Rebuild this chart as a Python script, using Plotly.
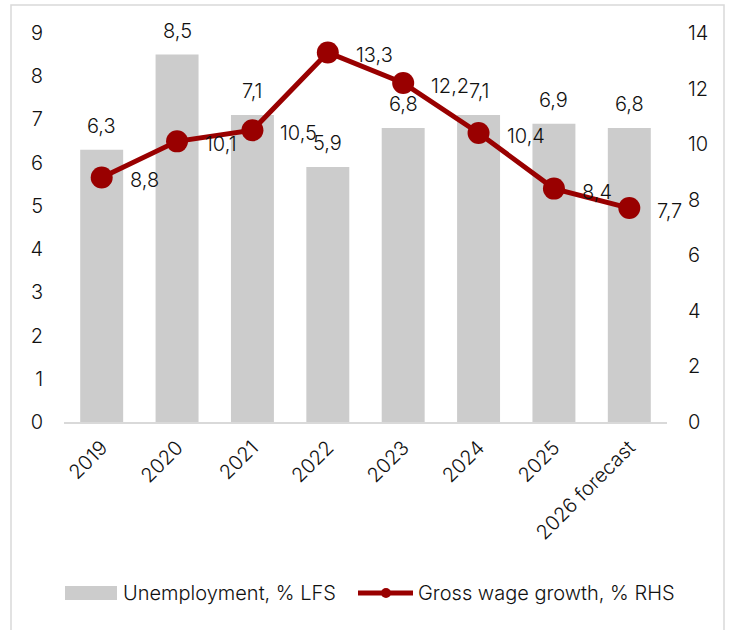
import plotly.graph_objects as go

years = ["2019", "2020", "2021", "2022", "2023", "2024", "2025", "2026 forecast"]
unemployment = [6.3, 8.5, 7.1, 5.9, 6.8, 7.1, 6.9, 6.8]
wage_growth = [8.8, 10.1, 10.5, 13.3, 12.2, 10.4, 8.4, 7.7]

left_ticks = list(range(0, 10))
right_ticks = list(range(0, 15, 2))

FONT = "Inter, Roboto, sans-serif"
FS = 20
FW = 300
BAR_COLOR = "#cccccc"
LINE_COLOR = "#990000"
TEXT_COLOR = "#111111"

# plot-area geometry in pixels (used to place the hand-drawn legend and frame)
W, H = 729, 630
L, R, T, B = 64, 62, 33, 208
PW, PH = W - L - R, H - T - B


def px_x(px):
    return (px - L) / PW


def px_y(py):
    return (H - B - py) / PH


def fmt(v):
    return f"{v:.1f}".replace(".", ",")


def tfont():
    return dict(size=FS, color=TEXT_COLOR, family=FONT, weight=FW)


fig = go.Figure()

fig.add_trace(go.Bar(
    x=years, y=unemployment,
    name="Unemployment, % LFS",
    marker=dict(color=BAR_COLOR, line=dict(width=0)),
    yaxis="y",
    showlegend=False,
))

fig.add_trace(go.Scatter(
    x=years, y=wage_growth,
    name="Gross wage growth, % RHS",
    mode="lines+markers",
    line=dict(color=LINE_COLOR, width=5),
    marker=dict(color=LINE_COLOR, size=22),
    cliponaxis=False,
    yaxis="y2",
    showlegend=False,
))

annotations = []
# value labels above the bars (x given as category index)
for i, v in enumerate(unemployment):
    annotations.append(dict(
        x=i, y=v, xref="x", yref="y", text=fmt(v), showarrow=False,
        xanchor="center", yanchor="middle", yshift=24, font=tfont(),
    ))
# value labels to the right of the line markers
for i, v in enumerate(wage_growth):
    annotations.append(dict(
        x=i, y=v, xref="x", yref="y2", text=fmt(v), showarrow=False,
        xanchor="left", yanchor="middle", xshift=26, yshift=-3, font=tfont(),
    ))

# legend entries
LEG_Y = 593
annotations.append(dict(
    x=px_x(121), y=px_y(LEG_Y), xref="paper", yref="paper",
    text="Unemployment, % LFS", showarrow=False, xanchor="left", yanchor="middle",
    font=tfont(),
))
annotations.append(dict(
    x=px_x(416), y=px_y(LEG_Y), xref="paper", yref="paper",
    text="Gross wage growth, % RHS", showarrow=False, xanchor="left", yanchor="middle",
    font=tfont(),
))

shapes = [
    # outer frame
    dict(type="rect", xref="paper", yref="paper",
         x0=px_x(11), x1=px_x(724), y0=px_y(640), y1=px_y(5),
         line=dict(color="#d9d9d9", width=1.5), fillcolor="rgba(0,0,0,0)",
         layer="below"),
    # legend swatch for bars
    dict(type="rect", xref="paper", yref="paper",
         x0=px_x(65), x1=px_x(117), y0=px_y(LEG_Y + 7), y1=px_y(LEG_Y - 7),
         line=dict(width=0), fillcolor=BAR_COLOR),
    # legend swatch for line
    dict(type="line", xref="paper", yref="paper",
         x0=px_x(358), x1=px_x(413), y0=px_y(LEG_Y), y1=px_y(LEG_Y),
         line=dict(color=LINE_COLOR, width=5)),
    dict(type="circle", xref="paper", yref="paper",
         x0=px_x(381), x1=px_x(391), y0=px_y(LEG_Y + 5), y1=px_y(LEG_Y - 5),
         line=dict(width=0), fillcolor=LINE_COLOR),
]

fig.update_layout(
    width=W, height=H,
    margin=dict(l=L, r=R, t=T, b=B),
    paper_bgcolor="white", plot_bgcolor="white",
    font=tfont(),
    bargap=0.43,
    showlegend=False,
    xaxis=dict(
        type="category", categoryorder="array", categoryarray=years,
        range=[-0.5, len(years) - 0.5],
        tickangle=-45, showgrid=False, showline=True,
        linecolor="#d9d9d9", linewidth=2, ticks="",
        tickfont=tfont(), automargin=False,
        ticklabelstandoff=4,
    ),
    yaxis=dict(
        range=[0, 9], tickvals=left_ticks, showgrid=False, zeroline=False,
        showline=False, ticks="", tickfont=tfont(),
        ticklabelstandoff=20, automargin=False,
    ),
    yaxis2=dict(
        range=[0, 14], tickvals=right_ticks, overlaying="y", side="right",
        showgrid=False, zeroline=False, showline=False, ticks="",
        tickfont=tfont(), ticklabelstandoff=20,
        automargin=False,
    ),
    annotations=annotations,
    shapes=shapes,
)

fig.write_html("out.html")
